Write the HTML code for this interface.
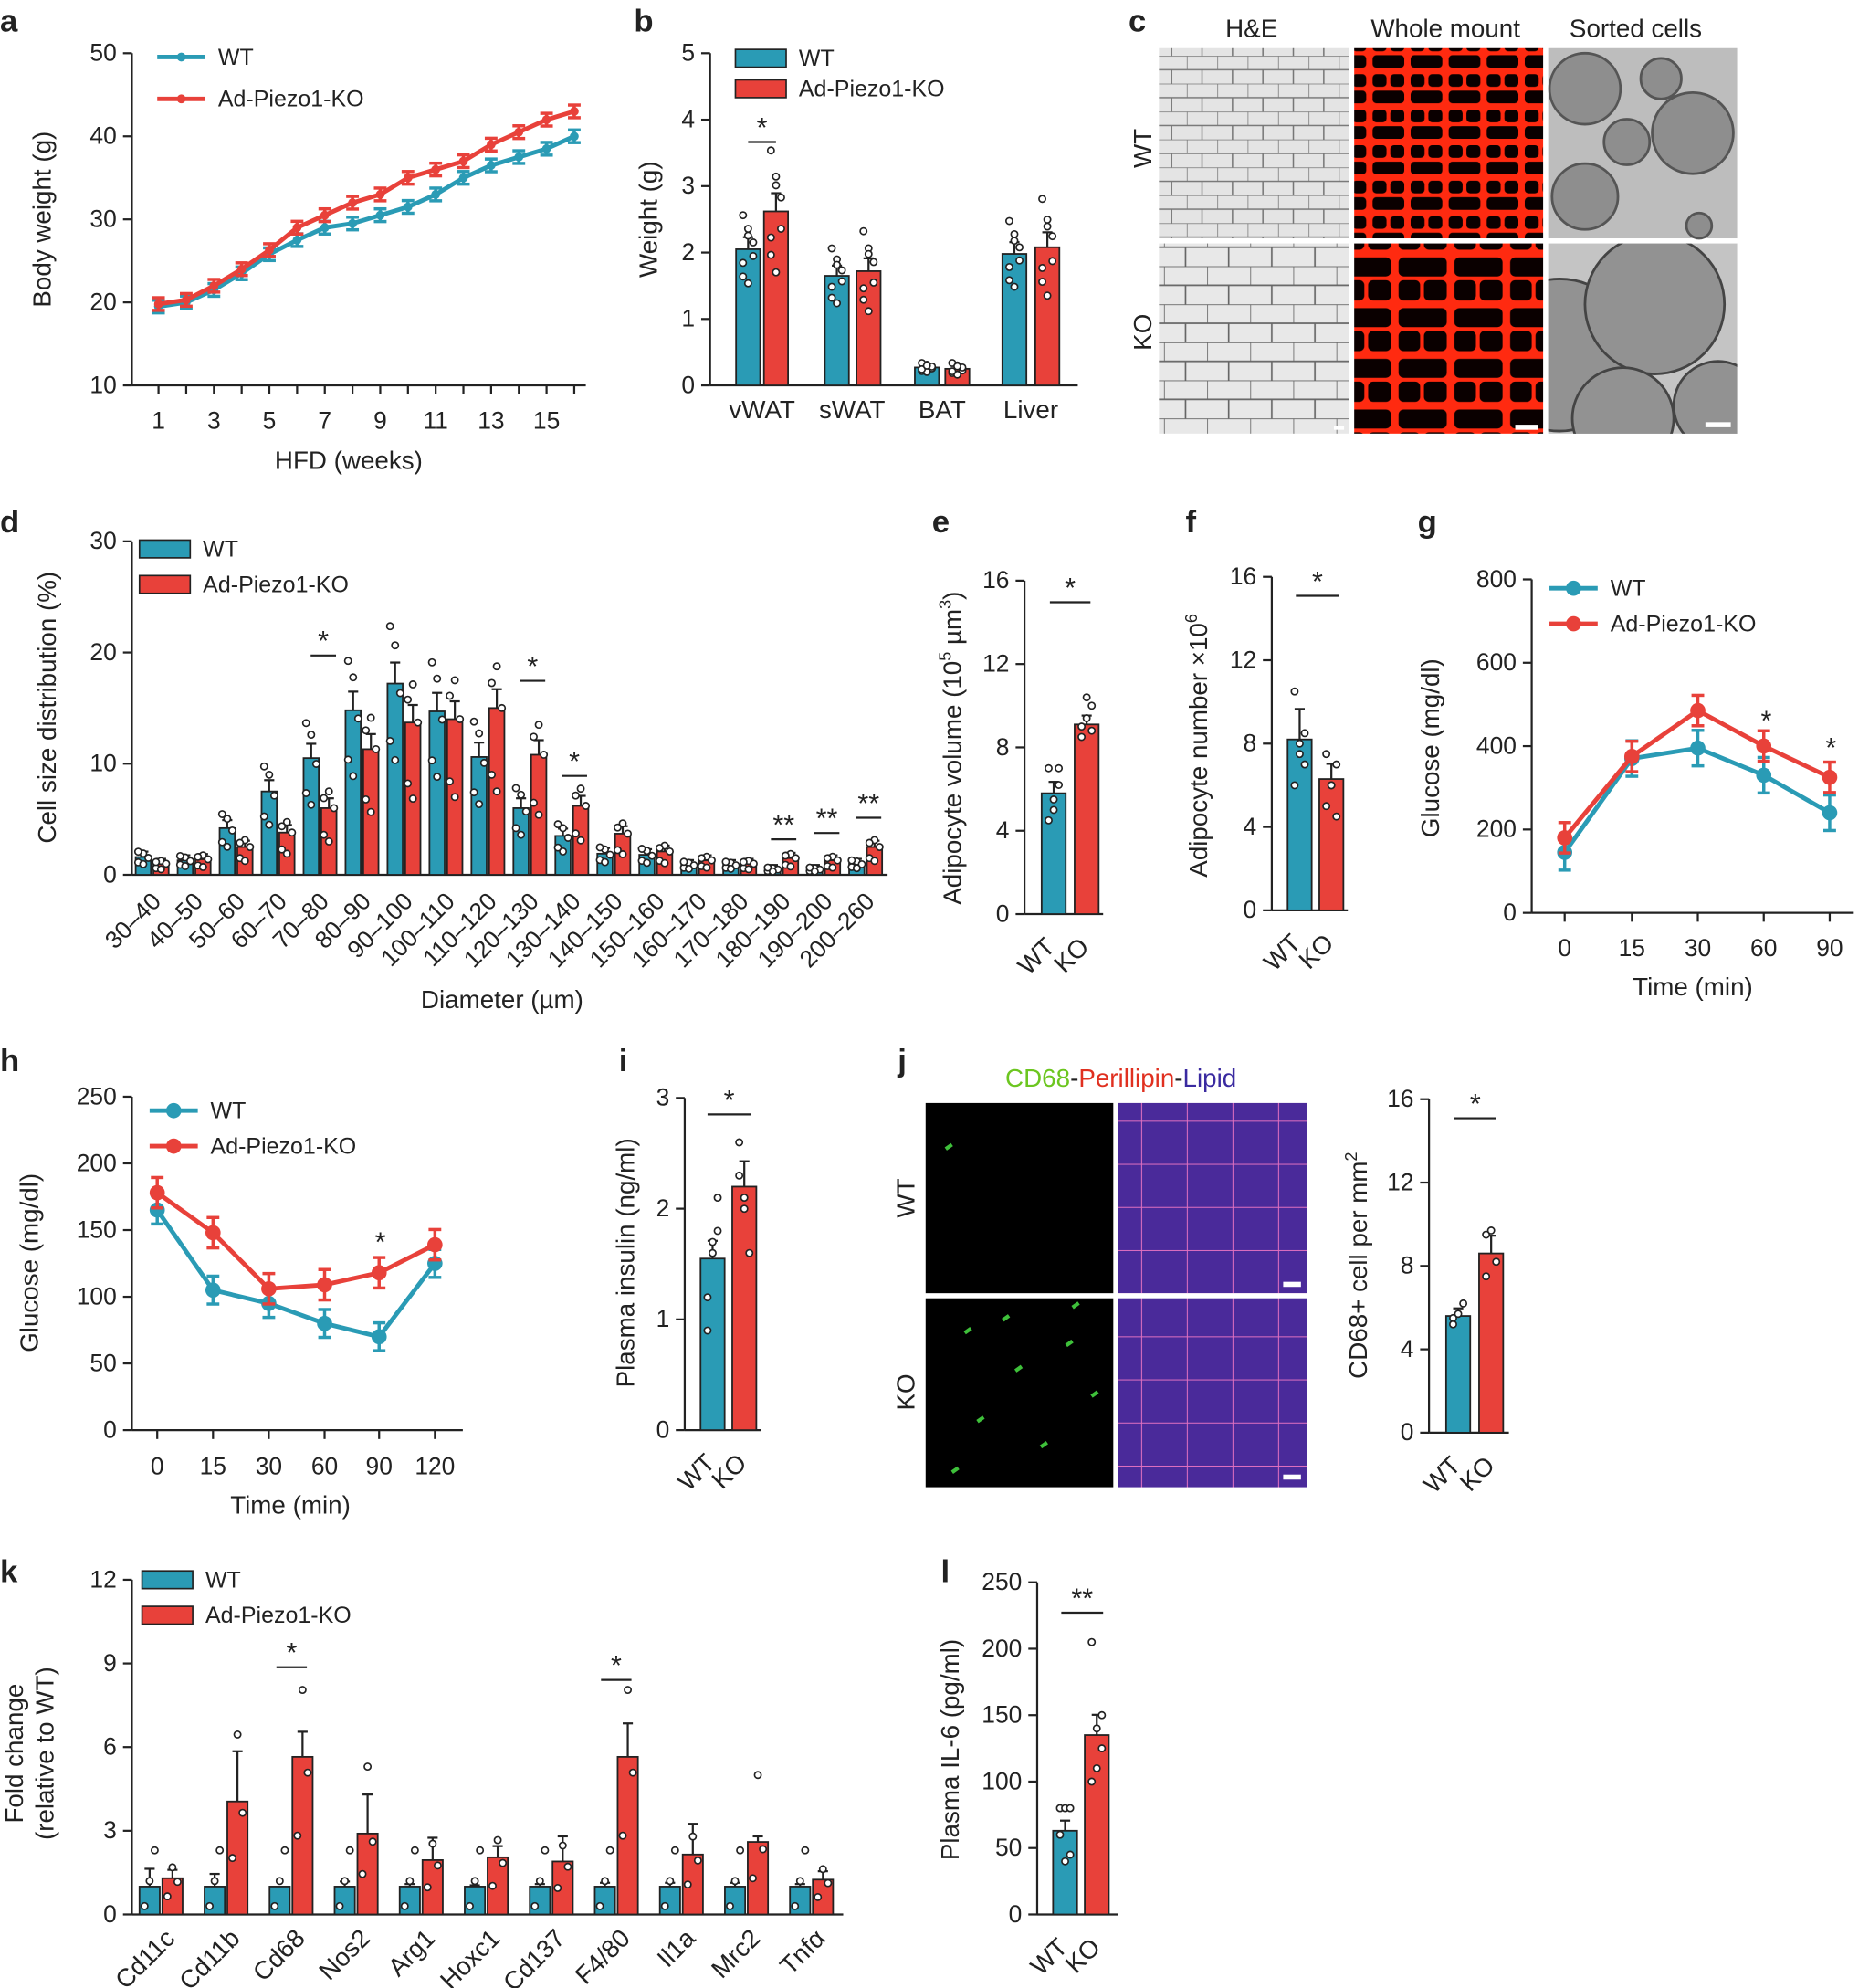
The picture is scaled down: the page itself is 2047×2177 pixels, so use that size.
<!DOCTYPE html>
<html><head><meta charset="utf-8"><style>
html,body{margin:0;padding:0;background:#fff}
svg{display:block}
text{font-family:"Liberation Sans",Arial,sans-serif;fill:#222}
</style></head><body>
<svg id="s" xmlns="http://www.w3.org/2000/svg" width="2047" height="2177" viewBox="0 0 1474 1568" preserveAspectRatio="none">
<defs>
<pattern id="he" width="24" height="22" patternUnits="userSpaceOnUse"><rect width="24" height="22" fill="#e4e4e4"/><path d="M0 0 L24 0 M0 0 L0 11 M12 11 L12 22 M0 11 L24 11" stroke="#777" stroke-width="1.1" fill="none"/></pattern>
<pattern id="wm" width="30" height="28" patternUnits="userSpaceOnUse"><rect width="30" height="28" fill="#ff2a10"/><rect x="2.5" y="2.5" width="11" height="10" rx="3" fill="#0a0000"/><rect x="16.5" y="2.5" width="11" height="10" rx="3" fill="#0a0000"/><rect x="2.5" y="15.5" width="25" height="10" rx="3" fill="#0a0000"/></pattern>
<pattern id="wm2" width="44" height="40" patternUnits="userSpaceOnUse"><rect width="44" height="40" fill="#ff2a10"/><rect x="3" y="3" width="38" height="15" rx="4" fill="#0a0000"/><rect x="3" y="21" width="17" height="16" rx="4" fill="#0a0000"/><rect x="23" y="21" width="18" height="16" rx="4" fill="#0a0000"/></pattern>
<pattern id="he2" width="34" height="30" patternUnits="userSpaceOnUse"><rect width="34" height="30" fill="#e8e8e8"/><path d="M0 0 L34 0 M0 0 L0 15 M17 15 L17 30 M0 15 L34 15" stroke="#666" stroke-width="1.2" fill="none"/></pattern>
<pattern id="cd" width="36" height="34" patternUnits="userSpaceOnUse"><rect width="36" height="34" fill="#4a2a9a"/><path d="M0 0 L36 0 M0 0 L0 34" stroke="#e070c0" stroke-width="1.5" fill="none"/></pattern>
</defs>
<g id="g"></g>
</svg>
<script>
const T='#2a9bb5',R='#e8413a';
let o='';
function t(x,y,s,fs,anch,extra){o+=`<text x="${x}" y="${y}" font-size="${fs||18}" text-anchor="${anch||'middle'}" ${extra||''}>${s}</text>`;}
function L(x1,y1,x2,y2,c,w){o+=`<line x1="${x1}" y1="${y1}" x2="${x2}" y2="${y2}" stroke="${c||'#222'}" stroke-width="${w||1.6}"/>`;}
function yax(x,y0,y1,vals,fs){L(x,y0,x,y1);vals.forEach((v,i)=>{let y=y0+(y1-y0)*i/(vals.length-1);L(x-7,y,x,y);t(x-12,y+6,v,fs||19,'end');});}
function ylab(x,y,s,fs){o+=`<text x="${x}" y="${y}" font-size="${fs||20}" text-anchor="middle" transform="rotate(-90 ${x} ${y})">${s}</text>`;}
function P(x,y,s){t(x,y,s,25,'start','font-weight="bold"');}
function bar(x,w,y0,yv,c,err){o+=`<rect x="${x-w/2}" y="${yv}" width="${w}" height="${y0-yv}" fill="${c}" stroke="#222" stroke-width="1.3"/>`;if(err){L(x,yv,x,yv-err);L(x-4,yv-err,x+4,yv-err);}}
function dot(x,y){o+=`<circle cx="${x}" cy="${y}" r="2.6" fill="#fff" stroke="#222" stroke-width="1.2"/>`;}
function dots(x,y0,sc,arr){arr.forEach((v,i)=>dot(x+((i%3)-1)*4,y0-v*sc));}
function star(x1,x2,y,s){L(x1,y,x2,y);t((x1+x2)/2,y-4,s||'*',22);}
function line(xs,ys,c,m,err){o+=`<polyline points="${xs.map((x,i)=>x+','+ys[i]).join(' ')}" fill="none" stroke="${c}" stroke-width="3.5"/>`;xs.forEach((x,i)=>{if(err){L(x,ys[i]-err,x,ys[i]+err,c,2.5);L(x-5,ys[i]-err,x+5,ys[i]-err,c,2.5);L(x-5,ys[i]+err,x+5,ys[i]+err,c,2.5);}o+=`<circle cx="${x}" cy="${ys[i]}" r="${m}" fill="${c}"/>`;});}
function legL(x,y,c,s,m){L(x,y,x+38,y,c,3.5);o+=`<circle cx="${x+19}" cy="${y}" r="${m}" fill="${c}"/>`;t(x+48,y+6,s,18,'start');}
function legB(x,y,c,s){o+=`<rect x="${x}" y="${y-7}" width="40" height="14" fill="${c}" stroke="#222" stroke-width="1.2"/>`;t(x+50,y+6,s,18,'start');}

// a
P(0,25,'a');
yax(104,304,42,['10','20','30','40','50']);
L(104,304,462,304);
for(let w=1;w<=16;w++){let x=125+(w-1)*21.86;L(x,304,x,311);if(w%2)t(x,338,w,19);}
t(275,370,'HFD (weeks)',20);ylab(40,173,'Body weight (g)');
const ya=v=>304-(v-10)*6.55;
let xa=[...Array(16)].map((_,i)=>125+i*21.86);
line(xa,[19.5,20,21.5,23.5,25.8,27.5,29,29.5,30.5,31.5,33,35,36.5,37.5,38.5,40].map(ya),T,3.5,5);
line(xa,[19.8,20.3,22,24,26.3,29,30.5,32,33,35,36,37,39,40.5,42,43].map(ya),R,3.5,5);
legL(124,45,T,'WT',3.5);legL(124,78,R,'Ad-Piezo1-KO',3.5);

// b
P(500,25,'b');
yax(560,304,42,['0','1','2','3','4','5']);L(560,304,850,304);
ylab(518,173,'Weight (g)');
const yb=v=>304-v*52.4;
[[590,612,2.05,2.62,'vWAT',601],[660,685,1.65,1.72,'sWAT',672],[731,755,.27,.25,'BAT',743],[800,826,1.98,2.08,'Liver',813]].forEach(g=>{
let a=g[2],b=g[3];
bar(g[0],19,304,yb(a),T,a*0.07*52.4+2);bar(g[1],19,304,yb(b),R,b*0.09*52.4+2);t(g[5],330,g[4],20);
dots(g[0],304,52.4,[a*.8,a*1.15,a*.95,a*1.25,a*.75,a*1.05,a*.9,a*1.1]);
dots(g[1],304,52.4,[b*.75,b*1.2,b*.9,b*1.35,b*.65,b*1.08,b*.85,b*1.15]);});
star(590,612,112,'*');
legB(580,46,T,'WT');legB(580,70,R,'Ad-Piezo1-KO');

// c
P(890,25,'c');
t(987,29,'H&amp;E',20);t(1140,29,'Whole mount',20);t(1290,29,'Sorted cells',20);
o+=`<rect x="914" y="38" width="150" height="150" fill="url(#he)"/><rect x="914" y="192" width="150" height="150" fill="url(#he2)"/>`;
o+=`<rect x="1068" y="38" width="149" height="150" fill="url(#wm)"/><rect x="1068" y="192" width="149" height="150" fill="url(#wm2)"/>`;
o+=`<rect x="1221" y="38" width="149" height="150" fill="#bdbdbd"/><rect x="1221" y="192" width="149" height="150" fill="#c4c4c4"/>`;
[[1250,70,28],[1335,105,32],[1283,112,18],[1250,155,26],[1310,62,16],[1340,178,10]].forEach(c=>o+=`<circle cx="${c[0]}" cy="${c[1]}" r="${c[2]}" fill="#8e8e8e" stroke="#555" stroke-width="2"/>`);
o+=`<clipPath id="cl"><rect x="1221" y="192" width="149" height="150"/></clipPath><g clip-path="url(#cl)">`;
[[1230,280,60],[1305,240,55],[1280,330,40],[1355,320,35]].forEach(c=>o+=`<circle cx="${c[0]}" cy="${c[1]}" r="${c[2]}" fill="#929292" stroke="#444" stroke-width="2"/>`);
o+=`</g>`;
ylab(908,117,'WT');ylab(908,262,'KO');
o+=`<rect x="1195" y="335" width="18" height="4" fill="#fff"/><rect x="1345" y="333" width="20" height="4" fill="#fff"/><rect x="1052" y="336" width="8" height="3" fill="#fff"/>`;

// d
P(0,420,'d');
yax(104,690,427,['0','10','20','30']);L(104,690,700,690);
ylab(44,558,'Cell size distribution (%)');
const W=[1.6,1.3,4.2,7.5,10.5,14.8,17.2,14.7,10.6,6,3.5,1.9,1.8,0.9,0.9,0.5,0.5,1.0];
const K=[1.0,1.4,2.5,3.8,6.0,11.3,13.7,14,15,10.8,6.2,3.7,2.1,1.3,1.0,1.5,1.3,2.5];
const lab=['30–40','40–50','50–60','60–70','70–80','80–90','90–100','100–110','110–120','120–130','130–140','140–150','150–160','160–170','170–180','180–190','190–200','200–260'];
W.forEach((v,i)=>{let c=120+i*33.1;bar(c-7,12,690,690-v*8.77,T,v*0.09*8.77+3);bar(c+7,12,690,690-K[i]*8.77,R,K[i]*0.09*8.77+3);
dots(c-7,690,8.77,[v*0.7,v*1.2,v*0.95,v*1.3,v*0.6]);dots(c+7,690,8.77,[K[i]*0.6,K[i]*1.25,K[i],K[i]*1.15,K[i]*0.5]);
o+=`<text x="${c+8}" y="712" font-size="19" text-anchor="end" transform="rotate(-45 ${c+8} 712)">${lab[i]}</text>`;});
star(245,265,517);star(410,430,537);star(443,463,612);star(608,628,662,'**');star(642,662,657,'**');star(675,695,645,'**');
t(396,795,'Diameter (µm)',20);
legB(110,433,T,'WT');legB(110,461,R,'Ad-Piezo1-KO');

// e
P(735,420,'e');yax(808,721,458,['0','4','8','12','16']);L(808,721,870,721);
ylab(758,590,'Adipocyte volume (10<tspan font-size="13" dy="-8">5</tspan><tspan dy="8"> µm</tspan><tspan font-size="13" dy="-8">3</tspan><tspan dy="8">)</tspan>');
bar(831,19,721,721-5.8*16.44,T,9);bar(857,19,721,721-9.1*16.44,R,7);
dots(831,721,16.44,[4.5,5.5,6.2,7,5,7]);dots(857,721,16.44,[8.5,9.4,10,9,10.4,8.8]);
star(828,860,475);
o+=`<text x="833" y="748" font-size="20" text-anchor="end" transform="rotate(-45 833 748)">WT</text><text x="860" y="748" font-size="20" text-anchor="end" transform="rotate(-45 860 748)">KO</text>`;
// f
P(935,420,'f');yax(1003,718,455,['0','4','8','12','16']);L(1003,718,1063,718);
ylab(952,588,'Adipocyte number ×10<tspan font-size="13" dy="-8">6</tspan>');
bar(1025,19,718,718-8.2*16.44,T,24);bar(1050,19,718,718-6.3*16.44,R,12);
dots(1025,718,16.44,[6,7.5,8.5,10.5,8,7]);dots(1050,718,16.44,[5,6,7,7.5,6,4.5]);
star(1022,1056,470);
o+=`<text x="1027" y="745" font-size="20" text-anchor="end" transform="rotate(-45 1027 745)">WT</text><text x="1053" y="745" font-size="20" text-anchor="end" transform="rotate(-45 1053 745)">KO</text>`;
// g
P(1118,420,'g');yax(1208,720,457,['0','200','400','600','800']);L(1208,720,1462,720);
ylab(1135,590,'Glucose (mg/dl)');
const xg=[1234,1287,1339,1391,1443];xg.forEach((x,i)=>{L(x,720,x,727);t(x,754,['0','15','30','60','90'][i],19);});
t(1335,785,'Time (min)',20);
const yg=v=>720-v*0.329;
line(xg,[145,370,395,330,240].map(yg),T,6,14);line(xg,[180,375,485,400,325].map(yg),R,6,12);
t(1393,576,'*',22);t(1444,597,'*',22);
legL(1222,464,T,'WT',6);legL(1222,492,R,'Ad-Piezo1-KO',6);

// h
P(0,845,'h');yax(104,1128,865,['0','50','100','150','200','250']);L(104,1128,365,1128);
ylab(30,996,'Glucose (mg/dl)');
const xh=[124,168,212,256,299,343];xh.forEach((x,i)=>{L(x,1128,x,1135);t(x,1163,['0','15','30','60','90','120'][i],19);});
t(229,1194,'Time (min)',20);
const yh=v=>1128-v*1.052;
line(xh,[165,105,95,80,70,125].map(yh),T,6,11);line(xh,[178,148,106,109,118,139].map(yh),R,6,12);
t(300,987,'*',22);
legL(118,876,T,'WT',6);legL(118,904,R,'Ad-Piezo1-KO',6);

// i
P(488,845,'i');yax(540,1128,866,['0','1','2','3']);L(540,1128,600,1128);
ylab(500,996,'Plasma insulin (ng/ml)');
bar(562,19,1128,1128-1.55*87.3,T,14);bar(587,19,1128,1128-2.2*87.3,R,20);
dots(562,1128,87.3,[1.2,1.7,2.1,0.9,1.6,1.8]);dots(587,1128,87.3,[2.6,2.0,1.6,2.3,2.1]);
star(558,592,879);
o+=`<text x="565" y="1155" font-size="20" text-anchor="end" transform="rotate(-45 565 1155)">WT</text><text x="590" y="1155" font-size="20" text-anchor="end" transform="rotate(-45 590 1155)">KO</text>`;

// j
P(708,845,'j');
o+=`<text x="884" y="857" font-size="20" text-anchor="middle"><tspan fill="#6cc620">CD68</tspan><tspan>-</tspan><tspan fill="#e03020">Perillipin</tspan><tspan>-</tspan><tspan fill="#3a2aa0">Lipid</tspan></text>`;
o+=`<rect x="730" y="870" width="148" height="150" fill="#000"/><rect x="730" y="1024" width="148" height="149" fill="#000"/>`;
o+=`<rect x="882" y="870" width="149" height="150" fill="url(#cd)"/><rect x="882" y="1024" width="149" height="149" fill="url(#cd)"/>`;
[[760,1050],[800,1080],[840,1060],[770,1120],[820,1140],[860,1100],[750,1160],[845,1030],[790,1040],[745,905]].forEach(p=>o+=`<rect x="${p[0]}" y="${p[1]}" width="6" height="3" fill="#3ec03a" transform="rotate(-35 ${p[0]} ${p[1]})"/>`);
o+=`<rect x="1012" y="1011" width="14" height="4" fill="#fff"/><rect x="1012" y="1163" width="14" height="4" fill="#fff"/>`;
ylab(721,945,'WT');ylab(721,1098,'KO');
yax(1127,1130,867,['0','4','8','12','16']);L(1127,1130,1190,1130);
ylab(1078,998,'CD68+ cell per mm<tspan font-size="13" dy="-8">2</tspan>');
bar(1150,19,1130,1130-5.6*16.44,T,6);bar(1176,19,1130,1130-8.6*16.44,R,14);
dots(1150,1130,16.44,[5.2,5.7,6.2,5.5]);dots(1176,1130,16.44,[9.5,9.7,8.2,7.5]);
star(1147,1180,882);
o+=`<text x="1153" y="1157" font-size="20" text-anchor="end" transform="rotate(-45 1153 1157)">WT</text><text x="1180" y="1157" font-size="20" text-anchor="end" transform="rotate(-45 1180 1157)">KO</text>`;

// k
P(0,1248,'k');yax(104,1510,1246,['0','3','6','9','12']);L(104,1510,665,1510);
ylab(18,1383,'Fold change');ylab(42,1383,'(relative to WT)');
const KK=[1.3,4.05,5.65,2.9,1.95,2.05,1.9,5.65,2.15,2.6,1.25];
const KE=[.3,1.8,.9,1.4,.8,.4,.9,1.2,1.1,.2,.3];
const gk=['Cd11c','Cd11b','Cd68','Nos2','Arg1','Hoxc1','Cd137','F4/80','Il1a','Mrc2','Tnfα'];
KK.forEach((v,i)=>{let c=127+i*51.3;bar(c-9,16,1510,1510-22,T,[14,10,0,4,2,1,2,3,3,3,2][i]);bar(c+9,16,1510,1510-v*22,R,KE[i]*22);
dots(c-9,1510,22,[0.3,1.2,2.3].slice(0,3));dots(c+9,1510,22,[v*.5,v*1.8>v+2?v+2.4:v*1.3,v*.9]);
o+=`<text x="${c+12}" y="1530" font-size="20" text-anchor="end" transform="rotate(-45 ${c+12} 1530)">${gk[i]}</text>`;});
star(218,242,1315);star(474,498,1325);
legB(112,1246,T,'WT');legB(112,1274,R,'Ad-Piezo1-KO');

// l
P(742,1248,'l');yax(818,1510,1248,['0','50','100','150','200','250']);L(818,1510,882,1510);
ylab(756,1380,'Plasma IL-6 (pg/ml)');
bar(840,19,1510,1510-63*1.048,T,8);bar(865,19,1510,1510-135*1.048,R,16);
dots(840,1510,1.048,[80,80,80,60,40,45]);dots(865,1510,1.048,[205,140,125,100,110,150]);
star(837,870,1272,'**');
o+=`<text x="843" y="1537" font-size="20" text-anchor="end" transform="rotate(-45 843 1537)">WT</text><text x="869" y="1537" font-size="20" text-anchor="end" transform="rotate(-45 869 1537)">KO</text>`;

document.getElementById('g').innerHTML=o;
</script>
</body></html>
